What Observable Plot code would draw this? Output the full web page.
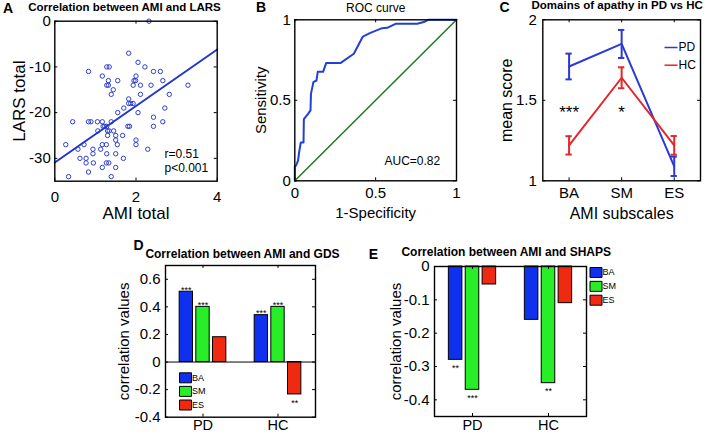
<!DOCTYPE html>
<html><head><meta charset="utf-8">
<script src="https://cdn.jsdelivr.net/npm/d3@7"></script>
<script src="https://cdn.jsdelivr.net/npm/@observablehq/plot@0.6"></script>
<style>
body{margin:0;background:#fff;}
#fig{position:relative;width:709px;height:435px;overflow:hidden;background:#fff;font-family:"Liberation Sans",Arial,sans-serif;}
.panel{position:absolute;}
.panel svg{overflow:visible;}
</style></head><body><div id="fig"></div>
<script>
// ---------- DATA ----------
// A: scatter AMI total vs LARS total
const amiTotal = [2.32,1.82,2.05,0.83,1.28,1.34,2.22,2.43,2.60,1.17,2.00,1.32,1.55,1.95,1.99,2.66,1.28,1.32,1.93,2.11,2.37,3.28,1.44,1.39,2.11,2.82,1.82,1.82,1.87,1.93,2.71,1.70,1.55,2.05,2.43,0.44,0.83,0.89,1.05,1.17,1.39,2.66,1.19,1.23,1.28,1.80,1.84,2.43,1.06,1.30,1.34,1.45,1.30,1.50,1.67,1.50,2.00,0.27,0.72,1.17,1.27,1.54,2.00,0.57,0.94,1.13,2.29,0.94,1.28,1.50,0.62,0.77,1.69,0.77,0.95,1.27,1.33,1.17,1.50,0.83,0.34,1.39];
const larsTotal = [0,-7,-9,-11,-10,-10,-10,-11,-11,-12,-12,-13,-13,-13,-13,-13,-14,-14,-14,-14,-14,-14,-15,-16,-16,-16,-17,-18,-18,-18,-19,-19,-20,-20,-21,-22,-22,-22,-22,-22,-22,-22,-23,-23,-23,-23,-23,-23,-24,-24,-24,-24,-25,-25,-25,-26,-26,-27,-27,-27,-27,-27,-27,-28,-28,-28,-28,-29,-29,-29,-30,-30,-30,-31,-31,-31,-31,-32,-32,-33,-34,-34];
const fitX = [0, 4];
const fitY = [-30.9, -6.2];
const statsA = ["r=0.51", "p<0.001"];
const ticksAx = [0, 2, 4];
const ticksAy = [0, -10, -20, -30];

// B: ROC curve
const rocFpr = [0,0,0.008,0.02,0.027,0.037,0.054,0.056,0.082,0.097,0.10,0.115,0.134,0.142,0.175,0.194,0.282,0.365,0.421,0.464,0.54,0.571,0.623,0.757,0.798,0.825,1];
const rocTpr = [0,0.09,0.095,0.126,0.178,0.238,0.238,0.383,0.416,0.437,0.54,0.613,0.623,0.677,0.677,0.731,0.731,0.789,0.896,0.917,0.948,0.95,0.975,0.975,0.986,1,1];
const chance = [0, 1];
const aucText = "AUC=0.82";
const ticksB = [0, 0.5, 1];

// C: domains of apathy
const subscales = ["BA", "SM", "ES"];
const pdMean = [1.71, 1.85, 1.09];
const pdErr  = [0.08, 0.087, 0.06];
const hcMean = [1.22, 1.64, 1.22];
const hcErr  = [0.057, 0.065, 0.058];
const sigC = ["***", "*", ""];
const sigCy = 1.45;
const groupsC = ["PD", "HC"];
const ticksCy = [1, 1.5, 2];

// D / E: grouped bars
const groups = ["PD", "HC"];
const seriesNames = ["BA", "SM", "ES"];
const gdsBA = [0.51, 0.34];
const gdsSM = [0.40, 0.40];
const gdsES = [0.18, -0.235];
const gdsSigBA = ["***", "***"];
const gdsSigSM = ["***", "***"];
const gdsSigES = ["", "**"];
const shapsBA = [-0.28, -0.16];
const shapsSM = [-0.37, -0.35];
const shapsES = [-0.054, -0.11];
const shapsSigBA = ["**", ""];
const shapsSigSM = ["***", "**"];
const shapsSigES = ["", ""];
const ticksDy = [-0.4, -0.2, 0, 0.2, 0.4, 0.6];
const ticksEy = [0, -0.1, -0.2, -0.3, -0.4];

// ---------- STYLE ----------
const FONT = '"Liberation Sans", Arial, sans-serif';
const barColors = ["#1030f0", "#28ee28", "#f02a10"];
const fig = document.getElementById("fig");

function place(svg, left, top, w, h) {
  const div = document.createElement("div");
  div.className = "panel";
  Object.assign(div.style, {left: left + "px", top: top + "px", width: w + "px", height: h + "px"});
  div.appendChild(svg);
  fig.appendChild(div);
}

function boxAxes({xTicks, yTicks, xFmt, yFmt, xPad, yPad, fs, xfs = fs, innerW, innerH, len = 3}) {
  return [
    Plot.tickX(xTicks, {x: d => d, insetTop: innerH - len, stroke: "black"}),
    Plot.tickX(xTicks, {x: d => d, insetBottom: innerH - len, stroke: "black"}),
    Plot.tickY(yTicks, {y: d => d, insetRight: innerW - len, stroke: "black"}),
    Plot.tickY(yTicks, {y: d => d, insetLeft: innerW - len, stroke: "black"}),
    Plot.axisX({ticks: xTicks, tickFormat: xFmt, tickSize: 0, tickPadding: xPad, fontSize: xfs, label: null}),
    Plot.axisY({ticks: yTicks, tickFormat: yFmt, tickSize: 0, tickPadding: yPad, fontSize: fs, label: null}),
    Plot.frame({stroke: "black", strokeWidth: 1.4})
  ];
}
function label(t, o) {
  return Plot.text([t], {text: d => d, textAnchor: "middle", lineAnchor: "middle", ...o});
}

function makePlot({box, frame, x, y, marks}) {
  const [L, T, W, H] = box;
  const [fx0, fy0, fx1, fy1] = frame;
  const svg = Plot.plot({
    width: W, height: H,
    marginLeft: fx0 - L, marginTop: fy0 - T, marginRight: L + W - fx1, marginBottom: T + H - fy1,
    x: {...x, label: null}, y: {...y, label: null},
    style: {background: "transparent", fontFamily: FONT, overflow: "visible", maxWidth: "none"},
    marks
  });
  place(svg, L, T, W, H);
}

// ---------- PANEL A ----------
{
  const frame = [54.3, 20.7, 216.7, 180.7];
  const innerW = frame[2] - frame[0], innerH = frame[3] - frame[1];
  const pts = amiTotal.map((v, i) => ({x: v, y: larsTotal[i]}));
  const fit = fitX.map((v, i) => ({x: v, y: fitY[i]}));
  makePlot({
    box: [0, 0, 235, 235], frame,
    x: {domain: [0, 4]}, y: {domain: [-35, 0]},
    marks: [
      Plot.dot(pts, {x: "x", y: "y", r: 2.2, stroke: "#2f3fcc", strokeWidth: 1, fill: "none"}),
      Plot.line(fit, {x: "x", y: "y", stroke: "#2236cc", strokeWidth: 2}),
      ...boxAxes({xTicks: ticksAx, yTicks: ticksAy, xFmt: d => String(d), yFmt: d => String(d), xPad: 10, yPad: 4, fs: 15, innerW, innerH}),
      label("AMI total", {frameAnchor: "bottom", dy: 32, fontSize: 17}),
      label("LARS total", {frameAnchor: "left", dx: -35, rotate: -90, fontSize: 17}),
      label("Correlation between AMI and LARS", {frameAnchor: "top", dx: -11.5, dy: -13.5, fontSize: 11.5, fontWeight: "bold"}),
      label("A", {frameAnchor: "top-left", dx: -46.8, dy: -13, fontSize: 14, fontWeight: "bold"}),
      Plot.text([statsA[0]], {text: d => d, frameAnchor: "bottom-left", dx: 109.7, dy: -27, textAnchor: "start", lineAnchor: "middle", fontSize: 12}),
      Plot.text([statsA[1]], {text: d => d, frameAnchor: "bottom-left", dx: 109.7, dy: -13, textAnchor: "start", lineAnchor: "middle", fontSize: 12})
    ]
  });
}

// ---------- PANEL B ----------
{
  const frame = [294.3, 19.3, 456, 180.3];
  const innerW = frame[2] - frame[0], innerH = frame[3] - frame[1];
  const roc = rocFpr.map((v, i) => ({x: v, y: rocTpr[i]}));
  makePlot({
    box: [240, 0, 225, 235], frame,
    x: {domain: [0, 1]}, y: {domain: [0, 1]},
    marks: [
      Plot.line(chance, {x: d => d, y: d => d, stroke: "#1e7a1e", strokeWidth: 1.5}),
      Plot.line(roc, {x: "x", y: "y", stroke: "#2040d8", strokeWidth: 2}),
      ...boxAxes({xTicks: ticksB, yTicks: ticksB, xFmt: d => String(d), yFmt: d => String(d), xPad: 7, yPad: 4, fs: 15, innerW, innerH}),
      label("1-Specificity", {frameAnchor: "bottom", dy: 32.7, fontSize: 15}),
      label("Sensitivity", {frameAnchor: "left", dx: -34, rotate: -90, fontSize: 15}),
      label("ROC curve", {frameAnchor: "top", dy: -12, fontSize: 12}),
      label("B", {frameAnchor: "top-left", dx: -33.8, dy: -11.8, fontSize: 14, fontWeight: "bold"}),
      Plot.text([aucText], {text: d => d, frameAnchor: "bottom-left", dx: 89.7, dy: -19.3, textAnchor: "start", lineAnchor: "middle", fontSize: 12})
    ]
  });
}

// ---------- PANEL C ----------
{
  const frame = [542.3, 19.3, 700, 180.3];
  const innerW = frame[2] - frame[0], innerH = frame[3] - frame[1];
  const pd = subscales.map((s, i) => ({x: i + 1, m: pdMean[i], e: pdErr[i]}));
  const hc = subscales.map((s, i) => ({x: i + 1, m: hcMean[i], e: hcErr[i]}));
  const cols = ["#2a3ad8", "#e2282a"];
  const legendLine = {draw(ctx) { ctx.moveTo(-6.5, 0); ctx.lineTo(6.5, 0); }};
  const seriesMarks = (rows, c) => [
    Plot.line(rows, {x: "x", y: "m", stroke: c, strokeWidth: 2}),
    Plot.ruleX(rows, {x: "x", y1: d => d.m - d.e, y2: d => d.m + d.e, stroke: c, strokeWidth: 2}),
    Plot.ruleY(rows, {y: d => d.m - d.e, x1: d => d.x - 0.06, x2: d => d.x + 0.06, stroke: c, strokeWidth: 2}),
    Plot.ruleY(rows, {y: d => d.m + d.e, x1: d => d.x - 0.06, x2: d => d.x + 0.06, stroke: c, strokeWidth: 2})
  ];
  const legRows = groupsC.map((g, i) => ({g, i}));
  makePlot({
    box: [470, 0, 239, 235], frame,
    x: {domain: [0.5, 3.5]}, y: {domain: [1, 2]},
    marks: [
      ...seriesMarks(pd, cols[0]),
      ...seriesMarks(hc, cols[1]),
      Plot.text(subscales.map((s, i) => ({x: i + 1, t: sigC[i]})).filter(d => d.t), {x: "x", y: () => sigCy, text: "t", fontSize: 17, dy: 4, textAnchor: "middle", lineAnchor: "middle"}),
      ...legRows.map(d => Plot.dot([d], {x: () => 3.5, y: () => 2, dx: -29.5, dy: 27.7 + d.i * 17.7, symbol: legendLine, r: 3, stroke: cols[d.i], strokeWidth: 1.5, fill: "none"})),
      ...legRows.map(d => Plot.text([d], {x: () => 3.5, y: () => 2, dx: -22, dy: 27.7 + d.i * 17.7, text: "g", textAnchor: "start", lineAnchor: "middle", fontSize: 12})),
      ...boxAxes({xTicks: [1, 2, 3], yTicks: ticksCy, xFmt: d => subscales[d - 1], yFmt: d => String(d), xPad: 7, yPad: 6, fs: 15, innerW, innerH}),
      label("AMI subscales", {frameAnchor: "bottom", dy: 32.7, fontSize: 16}),
      label("mean score", {frameAnchor: "left", dx: -36, rotate: -90, fontSize: 16}),
      label("Domains of apathy in PD vs HC", {frameAnchor: "top", dx: -4.5, dy: -14.5, fontSize: 11.5, fontWeight: "bold"}),
      label("C", {frameAnchor: "top-left", dx: -38.3, dy: -11.8, fontSize: 14, fontWeight: "bold"})
    ]
  });
}

// ---------- BAR PANELS ----------
const pitch = 0.2222, barW = 0.178;
function barRows(vals, sigs) {
  const rows = [];
  groups.forEach((g, gi) => {
    vals.forEach((arr, si) => {
      rows.push({g, s: seriesNames[si], si, pos: gi + 1 + (si - 1) * pitch, v: arr[gi], sig: sigs[si][gi]});
    });
  });
  return rows;
}
const boxSym = {draw(ctx) { ctx.rect(-6, -5, 12, 10); }};

// ---------- PANEL D ----------
{
  const frame = [165, 265, 315, 416.7];
  const innerW = frame[2] - frame[0], innerH = frame[3] - frame[1];
  const rows = barRows([gdsBA, gdsSM, gdsES], [gdsSigBA, gdsSigSM, gdsSigES]);
  const leg = seriesNames.map((s, i) => ({s, i}));
  makePlot({
    box: [100, 230, 240, 205], frame,
    x: {domain: [0.5, 2.5]}, y: {domain: [-0.4, 0.7]},
    marks: [
      Plot.rectY(rows, {x1: d => d.pos - barW / 2, x2: d => d.pos + barW / 2, y1: 0, y2: "v", fill: d => barColors[d.si], stroke: "black", strokeWidth: 1}),
      Plot.ruleY([0], {stroke: "black", strokeWidth: 1}),
      Plot.text(rows.filter(d => d.sig && d.v > 0), {x: "pos", y: "v", text: "sig", dy: -2, fontSize: 9, textAnchor: "middle", lineAnchor: "middle"}),
      Plot.text(rows.filter(d => d.sig && d.v < 0), {x: "pos", y: "v", text: "sig", dy: 9, fontSize: 9, textAnchor: "middle", lineAnchor: "middle"}),
      ...leg.map(d => Plot.dot([d], {x: () => 0.5, y: () => -0.4, dx: 20, dy: -39.4 + d.i * 13.6, symbol: boxSym, r: 3, fill: barColors[d.i], stroke: "black", strokeWidth: 1})),
      ...leg.map(d => Plot.text([d], {x: () => 0.5, y: () => -0.4, dx: 26.5, dy: -39.4 + d.i * 13.6, text: "s", fontSize: 9, textAnchor: "start", lineAnchor: "middle"})),
      ...boxAxes({xTicks: [1, 2], yTicks: ticksDy, xFmt: d => groups[d - 1], yFmt: d => String(d), xPad: 3, yPad: 5, fs: 15, xfs: 14.5, innerW, innerH}),
      label("correlation values", {frameAnchor: "left", dx: -41, rotate: -90, fontSize: 15}),
      label("Correlation between AMI and GDS", {frameAnchor: "top", dx: 2, dy: -11.7, fontSize: 12, fontWeight: "bold"}),
      label("D", {frameAnchor: "top-left", dx: -27, dy: -20, fontSize: 14, fontWeight: "bold"})
    ]
  });
}

// ---------- PANEL E ----------
{
  const frame = [434, 266, 586, 416];
  const innerW = frame[2] - frame[0], innerH = frame[3] - frame[1];
  const rows = barRows([shapsBA, shapsSM, shapsES], [shapsSigBA, shapsSigSM, shapsSigES]);
  const leg = seriesNames.map((s, i) => ({s, i}));
  makePlot({
    box: [360, 230, 349, 205], frame,
    x: {domain: [0.5, 2.5]}, y: {domain: [-0.45, 0]},
    marks: [
      Plot.rectY(rows, {x1: d => d.pos - barW / 2, x2: d => d.pos + barW / 2, y1: 0, y2: "v", fill: d => barColors[d.si], stroke: "black", strokeWidth: 1}),
      Plot.text(rows.filter(d => d.sig), {x: "pos", y: "v", text: "sig", dy: 8, fontSize: 9, textAnchor: "middle", lineAnchor: "middle"}),
      ...leg.map(d => Plot.dot([d], {x: () => 2.5, y: () => 0, dx: 9.5, dy: 6 + d.i * 13.85, symbol: boxSym, r: 3, fill: barColors[d.i], stroke: "black", strokeWidth: 1})),
      ...leg.map(d => Plot.text([d], {x: () => 2.5, y: () => 0, dx: 16, dy: 6 + d.i * 13.85, text: "s", fontSize: 9, textAnchor: "start", lineAnchor: "middle"})),
      ...boxAxes({xTicks: [1, 2], yTicks: ticksEy, xFmt: d => groups[d - 1], yFmt: d => String(d), xPad: 3, yPad: 5, fs: 15, xfs: 14.5, innerW, innerH}),
      label("correlation values", {frameAnchor: "left", dx: -38, rotate: -90, fontSize: 15}),
      label("Correlation between AMI and SHAPS", {frameAnchor: "top", dx: -4.3, dy: -14.5, fontSize: 12, fontWeight: "bold"}),
      label("E", {frameAnchor: "top-left", dx: -61, dy: -12, fontSize: 14, fontWeight: "bold"})
    ]
  });
}
</script></body></html>
